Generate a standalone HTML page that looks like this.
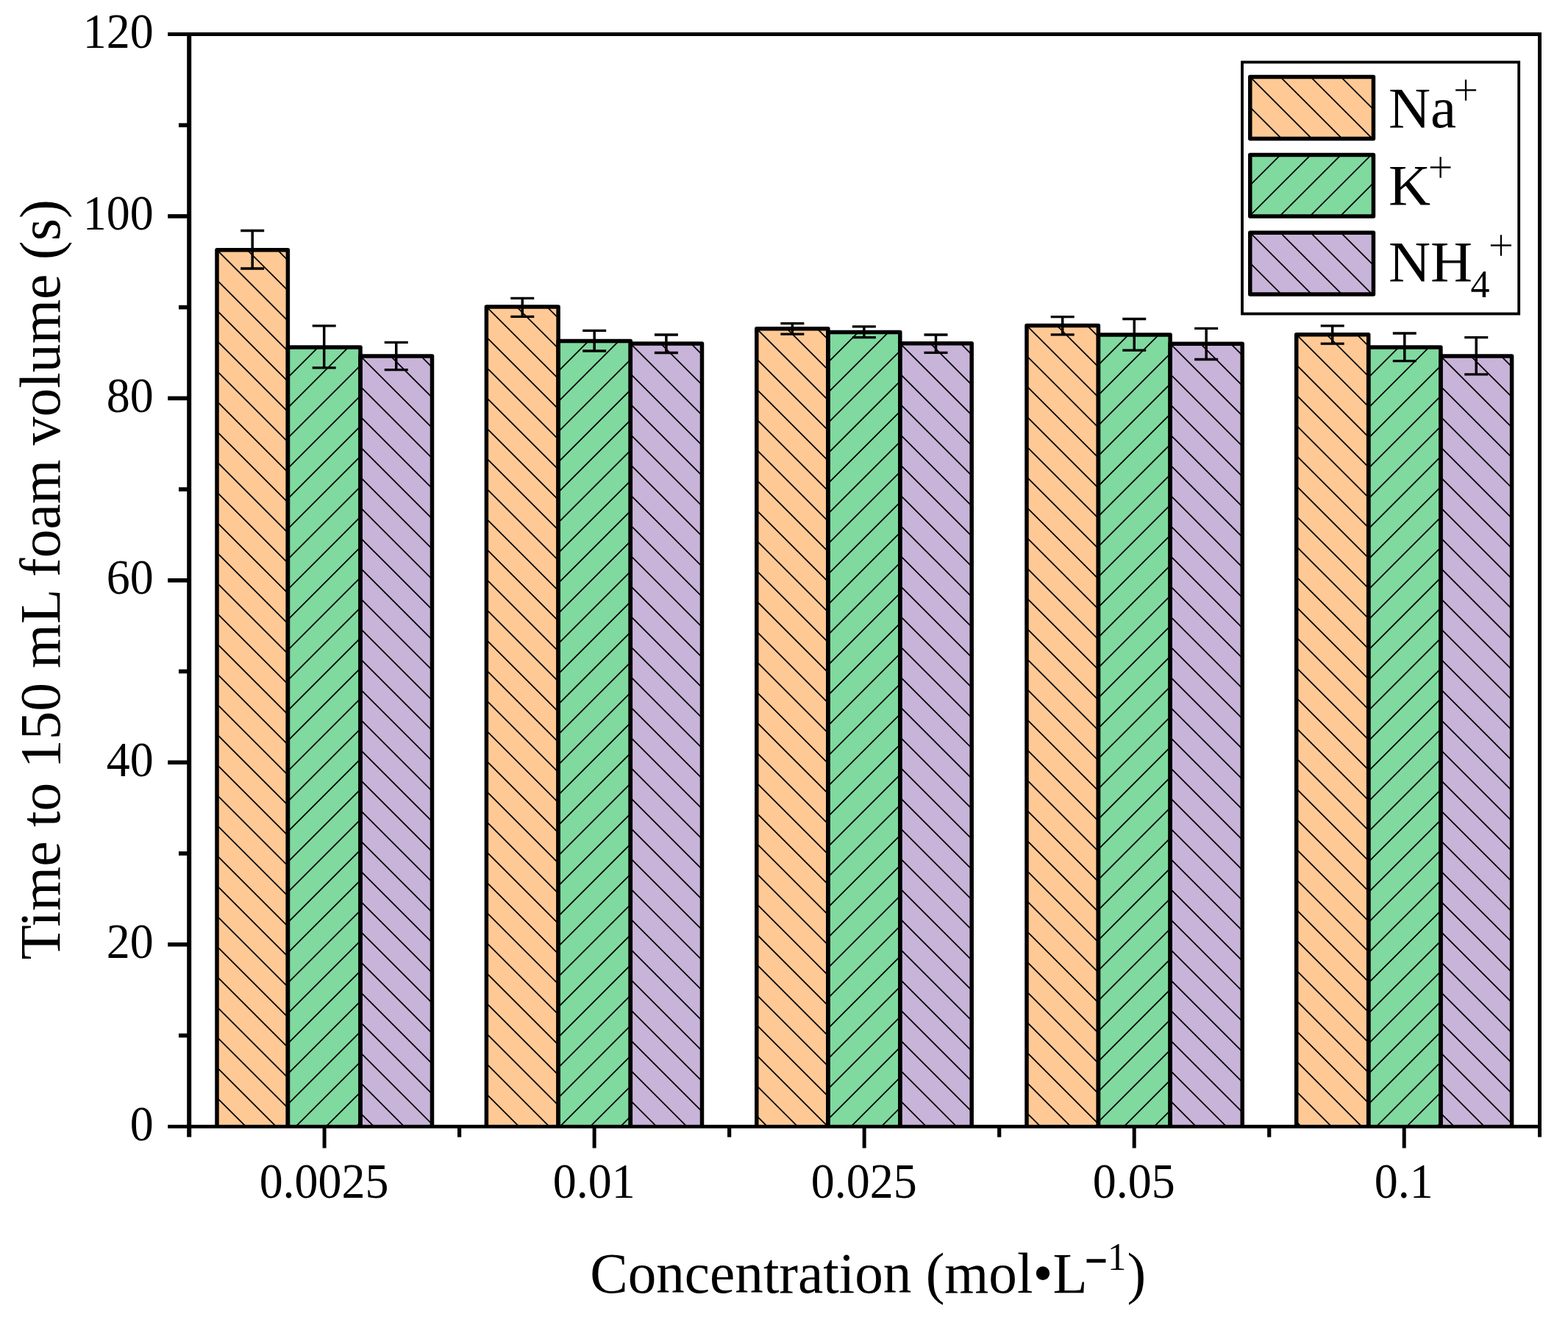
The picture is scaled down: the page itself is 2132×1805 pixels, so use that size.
<!DOCTYPE html><html><head><meta charset="utf-8"><title>Time to 150 mL foam volume</title>
<style>html,body{margin:0;padding:0;background:#fff;}body{width:2132px;height:1805px;overflow:hidden;}svg{display:block;}text{font-family:'Liberation Serif', 'Times New Roman', serif;fill:#000;}</style></head><body>
<svg width="2132" height="1805" viewBox="0 0 2132 1805">
<rect width="2132" height="1805" fill="#fff"/>
<rect x="295.00" y="339.70" width="96.40" height="1191.50" fill="#FFC995"/>
<clipPath id="c0"><rect x="295.00" y="339.70" width="96.40" height="1191.50"/></clipPath><path clip-path="url(#c0)" d="M290.00 170.10L396.40 276.50M290.00 211.25L396.40 317.65M290.00 252.40L396.40 358.80M290.00 293.55L396.40 399.95M290.00 334.70L396.40 441.10M290.00 375.85L396.40 482.25M290.00 417.00L396.40 523.40M290.00 458.15L396.40 564.55M290.00 499.30L396.40 605.70M290.00 540.45L396.40 646.85M290.00 581.60L396.40 688.00M290.00 622.75L396.40 729.15M290.00 663.90L396.40 770.30M290.00 705.05L396.40 811.45M290.00 746.20L396.40 852.60M290.00 787.35L396.40 893.75M290.00 828.50L396.40 934.90M290.00 869.65L396.40 976.05M290.00 910.80L396.40 1017.20M290.00 951.95L396.40 1058.35M290.00 993.10L396.40 1099.50M290.00 1034.25L396.40 1140.65M290.00 1075.40L396.40 1181.80M290.00 1116.55L396.40 1222.95M290.00 1157.70L396.40 1264.10M290.00 1198.85L396.40 1305.25M290.00 1240.00L396.40 1346.40M290.00 1281.15L396.40 1387.55M290.00 1322.30L396.40 1428.70M290.00 1363.45L396.40 1469.85M290.00 1404.60L396.40 1511.00M290.00 1445.75L396.40 1552.15M290.00 1486.90L396.40 1593.30M290.00 1528.05L396.40 1634.45M290.00 1569.20L396.40 1675.60" stroke="#000" stroke-width="1.75" fill="none"/>
<rect x="391.40" y="472.00" width="98.60" height="1059.20" fill="#80D99F"/>
<clipPath id="c1"><rect x="391.40" y="472.00" width="98.60" height="1059.20"/></clipPath><path clip-path="url(#c1)" d="M386.40 435.85L495.00 327.25M386.40 477.00L495.00 368.40M386.40 518.15L495.00 409.55M386.40 559.30L495.00 450.70M386.40 600.45L495.00 491.85M386.40 641.60L495.00 533.00M386.40 682.75L495.00 574.15M386.40 723.90L495.00 615.30M386.40 765.05L495.00 656.45M386.40 806.20L495.00 697.60M386.40 847.35L495.00 738.75M386.40 888.50L495.00 779.90M386.40 929.65L495.00 821.05M386.40 970.80L495.00 862.20M386.40 1011.95L495.00 903.35M386.40 1053.10L495.00 944.50M386.40 1094.25L495.00 985.65M386.40 1135.40L495.00 1026.80M386.40 1176.55L495.00 1067.95M386.40 1217.70L495.00 1109.10M386.40 1258.85L495.00 1150.25M386.40 1300.00L495.00 1191.40M386.40 1341.15L495.00 1232.55M386.40 1382.30L495.00 1273.70M386.40 1423.45L495.00 1314.85M386.40 1464.60L495.00 1356.00M386.40 1505.75L495.00 1397.15M386.40 1546.90L495.00 1438.30M386.40 1588.05L495.00 1479.45M386.40 1629.20L495.00 1520.60M386.40 1670.35L495.00 1561.75M386.40 1711.50L495.00 1602.90" stroke="#000" stroke-width="1.75" fill="none"/>
<rect x="490.00" y="484.00" width="97.50" height="1047.20" fill="#C8B3D9"/>
<clipPath id="c2"><rect x="490.00" y="484.00" width="97.50" height="1047.20"/></clipPath><path clip-path="url(#c2)" d="M485.00 314.40L592.50 421.90M485.00 355.55L592.50 463.05M485.00 396.70L592.50 504.20M485.00 437.85L592.50 545.35M485.00 479.00L592.50 586.50M485.00 520.15L592.50 627.65M485.00 561.30L592.50 668.80M485.00 602.45L592.50 709.95M485.00 643.60L592.50 751.10M485.00 684.75L592.50 792.25M485.00 725.90L592.50 833.40M485.00 767.05L592.50 874.55M485.00 808.20L592.50 915.70M485.00 849.35L592.50 956.85M485.00 890.50L592.50 998.00M485.00 931.65L592.50 1039.15M485.00 972.80L592.50 1080.30M485.00 1013.95L592.50 1121.45M485.00 1055.10L592.50 1162.60M485.00 1096.25L592.50 1203.75M485.00 1137.40L592.50 1244.90M485.00 1178.55L592.50 1286.05M485.00 1219.70L592.50 1327.20M485.00 1260.85L592.50 1368.35M485.00 1302.00L592.50 1409.50M485.00 1343.15L592.50 1450.65M485.00 1384.30L592.50 1491.80M485.00 1425.45L592.50 1532.95M485.00 1466.60L592.50 1574.10M485.00 1507.75L592.50 1615.25M485.00 1548.90L592.50 1656.40M485.00 1590.05L592.50 1697.55" stroke="#000" stroke-width="1.75" fill="none"/>
<rect x="661.40" y="417.00" width="97.70" height="1114.20" fill="#FFC995"/>
<clipPath id="c3"><rect x="661.40" y="417.00" width="97.70" height="1114.20"/></clipPath><path clip-path="url(#c3)" d="M656.40 247.40L764.10 355.10M656.40 288.55L764.10 396.25M656.40 329.70L764.10 437.40M656.40 370.85L764.10 478.55M656.40 412.00L764.10 519.70M656.40 453.15L764.10 560.85M656.40 494.30L764.10 602.00M656.40 535.45L764.10 643.15M656.40 576.60L764.10 684.30M656.40 617.75L764.10 725.45M656.40 658.90L764.10 766.60M656.40 700.05L764.10 807.75M656.40 741.20L764.10 848.90M656.40 782.35L764.10 890.05M656.40 823.50L764.10 931.20M656.40 864.65L764.10 972.35M656.40 905.80L764.10 1013.50M656.40 946.95L764.10 1054.65M656.40 988.10L764.10 1095.80M656.40 1029.25L764.10 1136.95M656.40 1070.40L764.10 1178.10M656.40 1111.55L764.10 1219.25M656.40 1152.70L764.10 1260.40M656.40 1193.85L764.10 1301.55M656.40 1235.00L764.10 1342.70M656.40 1276.15L764.10 1383.85M656.40 1317.30L764.10 1425.00M656.40 1358.45L764.10 1466.15M656.40 1399.60L764.10 1507.30M656.40 1440.75L764.10 1548.45M656.40 1481.90L764.10 1589.60M656.40 1523.05L764.10 1630.75M656.40 1564.20L764.10 1671.90M656.40 1605.35L764.10 1713.05" stroke="#000" stroke-width="1.75" fill="none"/>
<rect x="759.10" y="463.50" width="98.20" height="1067.70" fill="#80D99F"/>
<clipPath id="c4"><rect x="759.10" y="463.50" width="98.20" height="1067.70"/></clipPath><path clip-path="url(#c4)" d="M754.10 427.35L862.30 319.15M754.10 468.50L862.30 360.30M754.10 509.65L862.30 401.45M754.10 550.80L862.30 442.60M754.10 591.95L862.30 483.75M754.10 633.10L862.30 524.90M754.10 674.25L862.30 566.05M754.10 715.40L862.30 607.20M754.10 756.55L862.30 648.35M754.10 797.70L862.30 689.50M754.10 838.85L862.30 730.65M754.10 880.00L862.30 771.80M754.10 921.15L862.30 812.95M754.10 962.30L862.30 854.10M754.10 1003.45L862.30 895.25M754.10 1044.60L862.30 936.40M754.10 1085.75L862.30 977.55M754.10 1126.90L862.30 1018.70M754.10 1168.05L862.30 1059.85M754.10 1209.20L862.30 1101.00M754.10 1250.35L862.30 1142.15M754.10 1291.50L862.30 1183.30M754.10 1332.65L862.30 1224.45M754.10 1373.80L862.30 1265.60M754.10 1414.95L862.30 1306.75M754.10 1456.10L862.30 1347.90M754.10 1497.25L862.30 1389.05M754.10 1538.40L862.30 1430.20M754.10 1579.55L862.30 1471.35M754.10 1620.70L862.30 1512.50M754.10 1661.85L862.30 1553.65M754.10 1703.00L862.30 1594.80" stroke="#000" stroke-width="1.75" fill="none"/>
<rect x="857.30" y="467.00" width="97.20" height="1064.20" fill="#C8B3D9"/>
<clipPath id="c5"><rect x="857.30" y="467.00" width="97.20" height="1064.20"/></clipPath><path clip-path="url(#c5)" d="M852.30 297.40L959.50 404.60M852.30 338.55L959.50 445.75M852.30 379.70L959.50 486.90M852.30 420.85L959.50 528.05M852.30 462.00L959.50 569.20M852.30 503.15L959.50 610.35M852.30 544.30L959.50 651.50M852.30 585.45L959.50 692.65M852.30 626.60L959.50 733.80M852.30 667.75L959.50 774.95M852.30 708.90L959.50 816.10M852.30 750.05L959.50 857.25M852.30 791.20L959.50 898.40M852.30 832.35L959.50 939.55M852.30 873.50L959.50 980.70M852.30 914.65L959.50 1021.85M852.30 955.80L959.50 1063.00M852.30 996.95L959.50 1104.15M852.30 1038.10L959.50 1145.30M852.30 1079.25L959.50 1186.45M852.30 1120.40L959.50 1227.60M852.30 1161.55L959.50 1268.75M852.30 1202.70L959.50 1309.90M852.30 1243.85L959.50 1351.05M852.30 1285.00L959.50 1392.20M852.30 1326.15L959.50 1433.35M852.30 1367.30L959.50 1474.50M852.30 1408.45L959.50 1515.65M852.30 1449.60L959.50 1556.80M852.30 1490.75L959.50 1597.95M852.30 1531.90L959.50 1639.10M852.30 1573.05L959.50 1680.25" stroke="#000" stroke-width="1.75" fill="none"/>
<rect x="1028.80" y="446.70" width="97.10" height="1084.50" fill="#FFC995"/>
<clipPath id="c6"><rect x="1028.80" y="446.70" width="97.10" height="1084.50"/></clipPath><path clip-path="url(#c6)" d="M1023.80 277.10L1130.90 384.20M1023.80 318.25L1130.90 425.35M1023.80 359.40L1130.90 466.50M1023.80 400.55L1130.90 507.65M1023.80 441.70L1130.90 548.80M1023.80 482.85L1130.90 589.95M1023.80 524.00L1130.90 631.10M1023.80 565.15L1130.90 672.25M1023.80 606.30L1130.90 713.40M1023.80 647.45L1130.90 754.55M1023.80 688.60L1130.90 795.70M1023.80 729.75L1130.90 836.85M1023.80 770.90L1130.90 878.00M1023.80 812.05L1130.90 919.15M1023.80 853.20L1130.90 960.30M1023.80 894.35L1130.90 1001.45M1023.80 935.50L1130.90 1042.60M1023.80 976.65L1130.90 1083.75M1023.80 1017.80L1130.90 1124.90M1023.80 1058.95L1130.90 1166.05M1023.80 1100.10L1130.90 1207.20M1023.80 1141.25L1130.90 1248.35M1023.80 1182.40L1130.90 1289.50M1023.80 1223.55L1130.90 1330.65M1023.80 1264.70L1130.90 1371.80M1023.80 1305.85L1130.90 1412.95M1023.80 1347.00L1130.90 1454.10M1023.80 1388.15L1130.90 1495.25M1023.80 1429.30L1130.90 1536.40M1023.80 1470.45L1130.90 1577.55M1023.80 1511.60L1130.90 1618.70M1023.80 1552.75L1130.90 1659.85M1023.80 1593.90L1130.90 1701.00" stroke="#000" stroke-width="1.75" fill="none"/>
<rect x="1125.90" y="451.40" width="97.90" height="1079.80" fill="#80D99F"/>
<clipPath id="c7"><rect x="1125.90" y="451.40" width="97.90" height="1079.80"/></clipPath><path clip-path="url(#c7)" d="M1120.90 415.25L1228.80 307.35M1120.90 456.40L1228.80 348.50M1120.90 497.55L1228.80 389.65M1120.90 538.70L1228.80 430.80M1120.90 579.85L1228.80 471.95M1120.90 621.00L1228.80 513.10M1120.90 662.15L1228.80 554.25M1120.90 703.30L1228.80 595.40M1120.90 744.45L1228.80 636.55M1120.90 785.60L1228.80 677.70M1120.90 826.75L1228.80 718.85M1120.90 867.90L1228.80 760.00M1120.90 909.05L1228.80 801.15M1120.90 950.20L1228.80 842.30M1120.90 991.35L1228.80 883.45M1120.90 1032.50L1228.80 924.60M1120.90 1073.65L1228.80 965.75M1120.90 1114.80L1228.80 1006.90M1120.90 1155.95L1228.80 1048.05M1120.90 1197.10L1228.80 1089.20M1120.90 1238.25L1228.80 1130.35M1120.90 1279.40L1228.80 1171.50M1120.90 1320.55L1228.80 1212.65M1120.90 1361.70L1228.80 1253.80M1120.90 1402.85L1228.80 1294.95M1120.90 1444.00L1228.80 1336.10M1120.90 1485.15L1228.80 1377.25M1120.90 1526.30L1228.80 1418.40M1120.90 1567.45L1228.80 1459.55M1120.90 1608.60L1228.80 1500.70M1120.90 1649.75L1228.80 1541.85M1120.90 1690.90L1228.80 1583.00" stroke="#000" stroke-width="1.75" fill="none"/>
<rect x="1223.80" y="466.80" width="97.40" height="1064.40" fill="#C8B3D9"/>
<clipPath id="c8"><rect x="1223.80" y="466.80" width="97.40" height="1064.40"/></clipPath><path clip-path="url(#c8)" d="M1218.80 297.20L1326.20 404.60M1218.80 338.35L1326.20 445.75M1218.80 379.50L1326.20 486.90M1218.80 420.65L1326.20 528.05M1218.80 461.80L1326.20 569.20M1218.80 502.95L1326.20 610.35M1218.80 544.10L1326.20 651.50M1218.80 585.25L1326.20 692.65M1218.80 626.40L1326.20 733.80M1218.80 667.55L1326.20 774.95M1218.80 708.70L1326.20 816.10M1218.80 749.85L1326.20 857.25M1218.80 791.00L1326.20 898.40M1218.80 832.15L1326.20 939.55M1218.80 873.30L1326.20 980.70M1218.80 914.45L1326.20 1021.85M1218.80 955.60L1326.20 1063.00M1218.80 996.75L1326.20 1104.15M1218.80 1037.90L1326.20 1145.30M1218.80 1079.05L1326.20 1186.45M1218.80 1120.20L1326.20 1227.60M1218.80 1161.35L1326.20 1268.75M1218.80 1202.50L1326.20 1309.90M1218.80 1243.65L1326.20 1351.05M1218.80 1284.80L1326.20 1392.20M1218.80 1325.95L1326.20 1433.35M1218.80 1367.10L1326.20 1474.50M1218.80 1408.25L1326.20 1515.65M1218.80 1449.40L1326.20 1556.80M1218.80 1490.55L1326.20 1597.95M1218.80 1531.70L1326.20 1639.10M1218.80 1572.85L1326.20 1680.25" stroke="#000" stroke-width="1.75" fill="none"/>
<rect x="1396.00" y="442.50" width="97.40" height="1088.70" fill="#FFC995"/>
<clipPath id="c9"><rect x="1396.00" y="442.50" width="97.40" height="1088.70"/></clipPath><path clip-path="url(#c9)" d="M1391.00 272.90L1498.40 380.30M1391.00 314.05L1498.40 421.45M1391.00 355.20L1498.40 462.60M1391.00 396.35L1498.40 503.75M1391.00 437.50L1498.40 544.90M1391.00 478.65L1498.40 586.05M1391.00 519.80L1498.40 627.20M1391.00 560.95L1498.40 668.35M1391.00 602.10L1498.40 709.50M1391.00 643.25L1498.40 750.65M1391.00 684.40L1498.40 791.80M1391.00 725.55L1498.40 832.95M1391.00 766.70L1498.40 874.10M1391.00 807.85L1498.40 915.25M1391.00 849.00L1498.40 956.40M1391.00 890.15L1498.40 997.55M1391.00 931.30L1498.40 1038.70M1391.00 972.45L1498.40 1079.85M1391.00 1013.60L1498.40 1121.00M1391.00 1054.75L1498.40 1162.15M1391.00 1095.90L1498.40 1203.30M1391.00 1137.05L1498.40 1244.45M1391.00 1178.20L1498.40 1285.60M1391.00 1219.35L1498.40 1326.75M1391.00 1260.50L1498.40 1367.90M1391.00 1301.65L1498.40 1409.05M1391.00 1342.80L1498.40 1450.20M1391.00 1383.95L1498.40 1491.35M1391.00 1425.10L1498.40 1532.50M1391.00 1466.25L1498.40 1573.65M1391.00 1507.40L1498.40 1614.80M1391.00 1548.55L1498.40 1655.95M1391.00 1589.70L1498.40 1697.10" stroke="#000" stroke-width="1.75" fill="none"/>
<rect x="1493.40" y="454.90" width="97.70" height="1076.30" fill="#80D99F"/>
<clipPath id="c10"><rect x="1493.40" y="454.90" width="97.70" height="1076.30"/></clipPath><path clip-path="url(#c10)" d="M1488.40 418.75L1596.10 311.05M1488.40 459.90L1596.10 352.20M1488.40 501.05L1596.10 393.35M1488.40 542.20L1596.10 434.50M1488.40 583.35L1596.10 475.65M1488.40 624.50L1596.10 516.80M1488.40 665.65L1596.10 557.95M1488.40 706.80L1596.10 599.10M1488.40 747.95L1596.10 640.25M1488.40 789.10L1596.10 681.40M1488.40 830.25L1596.10 722.55M1488.40 871.40L1596.10 763.70M1488.40 912.55L1596.10 804.85M1488.40 953.70L1596.10 846.00M1488.40 994.85L1596.10 887.15M1488.40 1036.00L1596.10 928.30M1488.40 1077.15L1596.10 969.45M1488.40 1118.30L1596.10 1010.60M1488.40 1159.45L1596.10 1051.75M1488.40 1200.60L1596.10 1092.90M1488.40 1241.75L1596.10 1134.05M1488.40 1282.90L1596.10 1175.20M1488.40 1324.05L1596.10 1216.35M1488.40 1365.20L1596.10 1257.50M1488.40 1406.35L1596.10 1298.65M1488.40 1447.50L1596.10 1339.80M1488.40 1488.65L1596.10 1380.95M1488.40 1529.80L1596.10 1422.10M1488.40 1570.95L1596.10 1463.25M1488.40 1612.10L1596.10 1504.40M1488.40 1653.25L1596.10 1545.55M1488.40 1694.40L1596.10 1586.70" stroke="#000" stroke-width="1.75" fill="none"/>
<rect x="1591.10" y="467.20" width="98.10" height="1064.00" fill="#C8B3D9"/>
<clipPath id="c11"><rect x="1591.10" y="467.20" width="98.10" height="1064.00"/></clipPath><path clip-path="url(#c11)" d="M1586.10 297.60L1694.20 405.70M1586.10 338.75L1694.20 446.85M1586.10 379.90L1694.20 488.00M1586.10 421.05L1694.20 529.15M1586.10 462.20L1694.20 570.30M1586.10 503.35L1694.20 611.45M1586.10 544.50L1694.20 652.60M1586.10 585.65L1694.20 693.75M1586.10 626.80L1694.20 734.90M1586.10 667.95L1694.20 776.05M1586.10 709.10L1694.20 817.20M1586.10 750.25L1694.20 858.35M1586.10 791.40L1694.20 899.50M1586.10 832.55L1694.20 940.65M1586.10 873.70L1694.20 981.80M1586.10 914.85L1694.20 1022.95M1586.10 956.00L1694.20 1064.10M1586.10 997.15L1694.20 1105.25M1586.10 1038.30L1694.20 1146.40M1586.10 1079.45L1694.20 1187.55M1586.10 1120.60L1694.20 1228.70M1586.10 1161.75L1694.20 1269.85M1586.10 1202.90L1694.20 1311.00M1586.10 1244.05L1694.20 1352.15M1586.10 1285.20L1694.20 1393.30M1586.10 1326.35L1694.20 1434.45M1586.10 1367.50L1694.20 1475.60M1586.10 1408.65L1694.20 1516.75M1586.10 1449.80L1694.20 1557.90M1586.10 1490.95L1694.20 1599.05M1586.10 1532.10L1694.20 1640.20M1586.10 1573.25L1694.20 1681.35" stroke="#000" stroke-width="1.75" fill="none"/>
<rect x="1762.70" y="454.70" width="98.00" height="1076.50" fill="#FFC995"/>
<clipPath id="c12"><rect x="1762.70" y="454.70" width="98.00" height="1076.50"/></clipPath><path clip-path="url(#c12)" d="M1757.70 285.10L1865.70 393.10M1757.70 326.25L1865.70 434.25M1757.70 367.40L1865.70 475.40M1757.70 408.55L1865.70 516.55M1757.70 449.70L1865.70 557.70M1757.70 490.85L1865.70 598.85M1757.70 532.00L1865.70 640.00M1757.70 573.15L1865.70 681.15M1757.70 614.30L1865.70 722.30M1757.70 655.45L1865.70 763.45M1757.70 696.60L1865.70 804.60M1757.70 737.75L1865.70 845.75M1757.70 778.90L1865.70 886.90M1757.70 820.05L1865.70 928.05M1757.70 861.20L1865.70 969.20M1757.70 902.35L1865.70 1010.35M1757.70 943.50L1865.70 1051.50M1757.70 984.65L1865.70 1092.65M1757.70 1025.80L1865.70 1133.80M1757.70 1066.95L1865.70 1174.95M1757.70 1108.10L1865.70 1216.10M1757.70 1149.25L1865.70 1257.25M1757.70 1190.40L1865.70 1298.40M1757.70 1231.55L1865.70 1339.55M1757.70 1272.70L1865.70 1380.70M1757.70 1313.85L1865.70 1421.85M1757.70 1355.00L1865.70 1463.00M1757.70 1396.15L1865.70 1504.15M1757.70 1437.30L1865.70 1545.30M1757.70 1478.45L1865.70 1586.45M1757.70 1519.60L1865.70 1627.60M1757.70 1560.75L1865.70 1668.75M1757.70 1601.90L1865.70 1709.90" stroke="#000" stroke-width="1.75" fill="none"/>
<rect x="1860.70" y="472.00" width="98.20" height="1059.20" fill="#80D99F"/>
<clipPath id="c13"><rect x="1860.70" y="472.00" width="98.20" height="1059.20"/></clipPath><path clip-path="url(#c13)" d="M1855.70 435.85L1963.90 327.65M1855.70 477.00L1963.90 368.80M1855.70 518.15L1963.90 409.95M1855.70 559.30L1963.90 451.10M1855.70 600.45L1963.90 492.25M1855.70 641.60L1963.90 533.40M1855.70 682.75L1963.90 574.55M1855.70 723.90L1963.90 615.70M1855.70 765.05L1963.90 656.85M1855.70 806.20L1963.90 698.00M1855.70 847.35L1963.90 739.15M1855.70 888.50L1963.90 780.30M1855.70 929.65L1963.90 821.45M1855.70 970.80L1963.90 862.60M1855.70 1011.95L1963.90 903.75M1855.70 1053.10L1963.90 944.90M1855.70 1094.25L1963.90 986.05M1855.70 1135.40L1963.90 1027.20M1855.70 1176.55L1963.90 1068.35M1855.70 1217.70L1963.90 1109.50M1855.70 1258.85L1963.90 1150.65M1855.70 1300.00L1963.90 1191.80M1855.70 1341.15L1963.90 1232.95M1855.70 1382.30L1963.90 1274.10M1855.70 1423.45L1963.90 1315.25M1855.70 1464.60L1963.90 1356.40M1855.70 1505.75L1963.90 1397.55M1855.70 1546.90L1963.90 1438.70M1855.70 1588.05L1963.90 1479.85M1855.70 1629.20L1963.90 1521.00M1855.70 1670.35L1963.90 1562.15M1855.70 1711.50L1963.90 1603.30" stroke="#000" stroke-width="1.75" fill="none"/>
<rect x="1958.90" y="484.10" width="96.70" height="1047.10" fill="#C8B3D9"/>
<clipPath id="c14"><rect x="1958.90" y="484.10" width="96.70" height="1047.10"/></clipPath><path clip-path="url(#c14)" d="M1953.90 314.50L2060.60 421.20M1953.90 355.65L2060.60 462.35M1953.90 396.80L2060.60 503.50M1953.90 437.95L2060.60 544.65M1953.90 479.10L2060.60 585.80M1953.90 520.25L2060.60 626.95M1953.90 561.40L2060.60 668.10M1953.90 602.55L2060.60 709.25M1953.90 643.70L2060.60 750.40M1953.90 684.85L2060.60 791.55M1953.90 726.00L2060.60 832.70M1953.90 767.15L2060.60 873.85M1953.90 808.30L2060.60 915.00M1953.90 849.45L2060.60 956.15M1953.90 890.60L2060.60 997.30M1953.90 931.75L2060.60 1038.45M1953.90 972.90L2060.60 1079.60M1953.90 1014.05L2060.60 1120.75M1953.90 1055.20L2060.60 1161.90M1953.90 1096.35L2060.60 1203.05M1953.90 1137.50L2060.60 1244.20M1953.90 1178.65L2060.60 1285.35M1953.90 1219.80L2060.60 1326.50M1953.90 1260.95L2060.60 1367.65M1953.90 1302.10L2060.60 1408.80M1953.90 1343.25L2060.60 1449.95M1953.90 1384.40L2060.60 1491.10M1953.90 1425.55L2060.60 1532.25M1953.90 1466.70L2060.60 1573.40M1953.90 1507.85L2060.60 1614.55M1953.90 1549.00L2060.60 1655.70M1953.90 1590.15L2060.60 1696.85" stroke="#000" stroke-width="1.75" fill="none"/>
<path d="M295.00 1531.20V339.70H391.40V1531.20" fill="none" stroke="#000" stroke-width="5.50" stroke-linejoin="round"/>
<path d="M391.40 1531.20V472.00H490.00V1531.20" fill="none" stroke="#000" stroke-width="5.50" stroke-linejoin="round"/>
<path d="M490.00 1531.20V484.00H587.50V1531.20" fill="none" stroke="#000" stroke-width="5.50" stroke-linejoin="round"/>
<path d="M661.40 1531.20V417.00H759.10V1531.20" fill="none" stroke="#000" stroke-width="5.50" stroke-linejoin="round"/>
<path d="M759.10 1531.20V463.50H857.30V1531.20" fill="none" stroke="#000" stroke-width="5.50" stroke-linejoin="round"/>
<path d="M857.30 1531.20V467.00H954.50V1531.20" fill="none" stroke="#000" stroke-width="5.50" stroke-linejoin="round"/>
<path d="M1028.80 1531.20V446.70H1125.90V1531.20" fill="none" stroke="#000" stroke-width="5.50" stroke-linejoin="round"/>
<path d="M1125.90 1531.20V451.40H1223.80V1531.20" fill="none" stroke="#000" stroke-width="5.50" stroke-linejoin="round"/>
<path d="M1223.80 1531.20V466.80H1321.20V1531.20" fill="none" stroke="#000" stroke-width="5.50" stroke-linejoin="round"/>
<path d="M1396.00 1531.20V442.50H1493.40V1531.20" fill="none" stroke="#000" stroke-width="5.50" stroke-linejoin="round"/>
<path d="M1493.40 1531.20V454.90H1591.10V1531.20" fill="none" stroke="#000" stroke-width="5.50" stroke-linejoin="round"/>
<path d="M1591.10 1531.20V467.20H1689.20V1531.20" fill="none" stroke="#000" stroke-width="5.50" stroke-linejoin="round"/>
<path d="M1762.70 1531.20V454.70H1860.70V1531.20" fill="none" stroke="#000" stroke-width="5.50" stroke-linejoin="round"/>
<path d="M1860.70 1531.20V472.00H1958.90V1531.20" fill="none" stroke="#000" stroke-width="5.50" stroke-linejoin="round"/>
<path d="M1958.90 1531.20V484.10H2055.60V1531.20" fill="none" stroke="#000" stroke-width="5.50" stroke-linejoin="round"/>
<path d="M343.20 313.50V365.00" stroke="#000" stroke-width="3.5" fill="none"/>
<path d="M327.20 313.50H359.20M327.20 365.00H359.20" stroke="#000" stroke-width="3.3" fill="none"/>
<path d="M440.70 442.80V499.80" stroke="#000" stroke-width="3.5" fill="none"/>
<path d="M424.70 442.80H456.70M424.70 499.80H456.70" stroke="#000" stroke-width="3.3" fill="none"/>
<path d="M538.75 465.30V502.60" stroke="#000" stroke-width="3.5" fill="none"/>
<path d="M522.75 465.30H554.75M522.75 502.60H554.75" stroke="#000" stroke-width="3.3" fill="none"/>
<path d="M710.25 405.40V430.30" stroke="#000" stroke-width="3.5" fill="none"/>
<path d="M694.25 405.40H726.25M694.25 430.30H726.25" stroke="#000" stroke-width="3.3" fill="none"/>
<path d="M808.20 449.30V477.00" stroke="#000" stroke-width="3.5" fill="none"/>
<path d="M792.20 449.30H824.20M792.20 477.00H824.20" stroke="#000" stroke-width="3.3" fill="none"/>
<path d="M905.90 455.00V479.50" stroke="#000" stroke-width="3.5" fill="none"/>
<path d="M889.90 455.00H921.90M889.90 479.50H921.90" stroke="#000" stroke-width="3.3" fill="none"/>
<path d="M1077.35 439.70V454.20" stroke="#000" stroke-width="3.5" fill="none"/>
<path d="M1061.35 439.70H1093.35M1061.35 454.20H1093.35" stroke="#000" stroke-width="3.3" fill="none"/>
<path d="M1174.85 443.90V458.60" stroke="#000" stroke-width="3.5" fill="none"/>
<path d="M1158.85 443.90H1190.85M1158.85 458.60H1190.85" stroke="#000" stroke-width="3.3" fill="none"/>
<path d="M1272.50 455.00V479.30" stroke="#000" stroke-width="3.5" fill="none"/>
<path d="M1256.50 455.00H1288.50M1256.50 479.30H1288.50" stroke="#000" stroke-width="3.3" fill="none"/>
<path d="M1444.70 430.60V454.90" stroke="#000" stroke-width="3.5" fill="none"/>
<path d="M1428.70 430.60H1460.70M1428.70 454.90H1460.70" stroke="#000" stroke-width="3.3" fill="none"/>
<path d="M1542.25 433.50V476.20" stroke="#000" stroke-width="3.5" fill="none"/>
<path d="M1526.25 433.50H1558.25M1526.25 476.20H1558.25" stroke="#000" stroke-width="3.3" fill="none"/>
<path d="M1640.15 446.30V488.50" stroke="#000" stroke-width="3.5" fill="none"/>
<path d="M1624.15 446.30H1656.15M1624.15 488.50H1656.15" stroke="#000" stroke-width="3.3" fill="none"/>
<path d="M1811.70 442.80V467.20" stroke="#000" stroke-width="3.5" fill="none"/>
<path d="M1795.70 442.80H1827.70M1795.70 467.20H1827.70" stroke="#000" stroke-width="3.3" fill="none"/>
<path d="M1909.80 453.00V490.60" stroke="#000" stroke-width="3.5" fill="none"/>
<path d="M1893.80 453.00H1925.80M1893.80 490.60H1925.80" stroke="#000" stroke-width="3.3" fill="none"/>
<path d="M2007.25 458.70V508.90" stroke="#000" stroke-width="3.5" fill="none"/>
<path d="M1991.25 458.70H2023.25M1991.25 508.90H2023.25" stroke="#000" stroke-width="3.3" fill="none"/>
<rect x="254.2" y="44" width="6" height="1501.5" fill="#000"/>
<rect x="2091" y="44" width="5" height="1501.5" fill="#000"/>
<rect x="228.2" y="44" width="1867.8" height="5" fill="#000"/>
<rect x="228.2" y="1528.8" width="1867.8" height="4.8" fill="#000"/>
<rect x="243" y="1404.67" width="12" height="5.6" fill="#000"/>
<rect x="228.2" y="1280.94" width="27" height="5.6" fill="#000"/>
<rect x="243" y="1157.21" width="12" height="5.6" fill="#000"/>
<rect x="228.2" y="1033.48" width="27" height="5.6" fill="#000"/>
<rect x="243" y="909.75" width="12" height="5.6" fill="#000"/>
<rect x="228.2" y="786.02" width="27" height="5.6" fill="#000"/>
<rect x="243" y="662.29" width="12" height="5.6" fill="#000"/>
<rect x="228.2" y="538.56" width="27" height="5.6" fill="#000"/>
<rect x="243" y="414.83" width="12" height="5.6" fill="#000"/>
<rect x="228.2" y="291.10" width="27" height="5.6" fill="#000"/>
<rect x="243" y="167.37" width="12" height="5.6" fill="#000"/>
<rect x="438.60" y="1531" width="5" height="29.5" fill="#000"/>
<rect x="805.63" y="1531" width="5" height="29.5" fill="#000"/>
<rect x="1172.66" y="1531" width="5" height="29.5" fill="#000"/>
<rect x="1539.69" y="1531" width="5" height="29.5" fill="#000"/>
<rect x="1906.72" y="1531" width="5" height="29.5" fill="#000"/>
<rect x="622.01" y="1531" width="5.2" height="14.6" fill="#000"/>
<rect x="989.04" y="1531" width="5.2" height="14.6" fill="#000"/>
<rect x="1356.08" y="1531" width="5.2" height="14.6" fill="#000"/>
<rect x="1723.11" y="1531" width="5.2" height="14.6" fill="#000"/>
<text transform="translate(208.8 1549.70) scale(1 1.045)" font-size="64" text-anchor="end">0</text>
<text transform="translate(208.8 1302.24) scale(1 1.045)" font-size="64" text-anchor="end">20</text>
<text transform="translate(208.8 1054.78) scale(1 1.045)" font-size="64" text-anchor="end">40</text>
<text transform="translate(208.8 807.32) scale(1 1.045)" font-size="64" text-anchor="end">60</text>
<text transform="translate(208.8 559.86) scale(1 1.045)" font-size="64" text-anchor="end">80</text>
<text transform="translate(208.8 312.40) scale(1 1.045)" font-size="64" text-anchor="end">100</text>
<text transform="translate(208.8 64.94) scale(1 1.045)" font-size="64" text-anchor="end">120</text>
<text transform="translate(440.60 1627.5) scale(1 1.045)" font-size="64" text-anchor="middle">0.0025</text>
<text transform="translate(807.63 1627.5) scale(1 1.045)" font-size="64" text-anchor="middle">0.01</text>
<text transform="translate(1174.66 1627.5) scale(1 1.045)" font-size="64" text-anchor="middle">0.025</text>
<text transform="translate(1541.69 1627.5) scale(1 1.045)" font-size="64" text-anchor="middle">0.05</text>
<text transform="translate(1908.72 1627.5) scale(1 1.045)" font-size="64" text-anchor="middle">0.1</text>
<text transform="translate(1180.2 1757.2) scale(0.977 1)" font-size="79" text-anchor="middle">Concentration (mol&#8226;L<tspan font-size="52" dx="-2.6" dy="-26.6" stroke="#000" stroke-width="2.4">&#8722;</tspan><tspan font-size="52" dx="1.3" dy="-5.1">1</tspan><tspan dx="1.2" dy="31.7">)</tspan></text>
<text transform="translate(80.6 787.85) rotate(-90) scale(0.9825 1)" font-size="79" text-anchor="middle">Time to 150 mL foam volume (s)</text>
<rect x="1689" y="84.5" width="376.2" height="342" fill="#fff" stroke="#000" stroke-width="3.8"/>
<rect x="1699.75" y="104.50" width="167.70" height="84.10" fill="#FFC995"/>
<clipPath id="c15"><rect x="1699.75" y="104.50" width="167.70" height="84.10"/></clipPath><path clip-path="url(#c15)" d="M1694.75 -147.40L1872.45 30.30M1694.75 -106.25L1872.45 71.45M1694.75 -65.10L1872.45 112.60M1694.75 -23.95L1872.45 153.75M1694.75 17.20L1872.45 194.90M1694.75 58.35L1872.45 236.05M1694.75 99.50L1872.45 277.20M1694.75 140.65L1872.45 318.35M1694.75 181.80L1872.45 359.50M1694.75 222.95L1872.45 400.65M1694.75 264.10L1872.45 441.80" stroke="#000" stroke-width="1.75" fill="none"/>
<rect x="1699.75" y="104.50" width="167.70" height="84.10" fill="none" stroke="#000" stroke-width="5.5" stroke-linejoin="round"/>
<rect x="1699.75" y="210.60" width="167.70" height="83.30" fill="#80D99F"/>
<clipPath id="c16"><rect x="1699.75" y="210.60" width="167.70" height="83.30"/></clipPath><path clip-path="url(#c16)" d="M1694.75 174.45L1872.45 -3.25M1694.75 215.60L1872.45 37.90M1694.75 256.75L1872.45 79.05M1694.75 297.90L1872.45 120.20M1694.75 339.05L1872.45 161.35M1694.75 380.20L1872.45 202.50M1694.75 421.35L1872.45 243.65M1694.75 462.50L1872.45 284.80M1694.75 503.65L1872.45 325.95M1694.75 544.80L1872.45 367.10" stroke="#000" stroke-width="1.75" fill="none"/>
<rect x="1699.75" y="210.60" width="167.70" height="83.30" fill="none" stroke="#000" stroke-width="5.5" stroke-linejoin="round"/>
<rect x="1699.75" y="316.30" width="167.70" height="83.60" fill="#C8B3D9"/>
<clipPath id="c17"><rect x="1699.75" y="316.30" width="167.70" height="83.60"/></clipPath><path clip-path="url(#c17)" d="M1694.75 64.40L1872.45 242.10M1694.75 105.55L1872.45 283.25M1694.75 146.70L1872.45 324.40M1694.75 187.85L1872.45 365.55M1694.75 229.00L1872.45 406.70M1694.75 270.15L1872.45 447.85M1694.75 311.30L1872.45 489.00M1694.75 352.45L1872.45 530.15M1694.75 393.60L1872.45 571.30M1694.75 434.75L1872.45 612.45M1694.75 475.90L1872.45 653.60" stroke="#000" stroke-width="1.75" fill="none"/>
<rect x="1699.75" y="316.30" width="167.70" height="83.60" fill="none" stroke="#000" stroke-width="5.5" stroke-linejoin="round"/>
<text x="1888" y="172.5" font-size="79">Na</text>
<text x="1888" y="277.9" font-size="79">K</text>
<text x="1888" y="382.3" font-size="79">NH<tspan font-size="52" dx="-2.5" dy="21.5">4</tspan></text>
<text x="1993.05" y="142.50" font-size="61.5" text-anchor="middle" stroke="#fff" stroke-width="0.7">+</text>
<text x="1958.55" y="248.40" font-size="61.5" text-anchor="middle" stroke="#fff" stroke-width="0.7">+</text>
<text x="2040.90" y="354.00" font-size="61.5" text-anchor="middle" stroke="#fff" stroke-width="0.7">+</text>
</svg></body></html>
